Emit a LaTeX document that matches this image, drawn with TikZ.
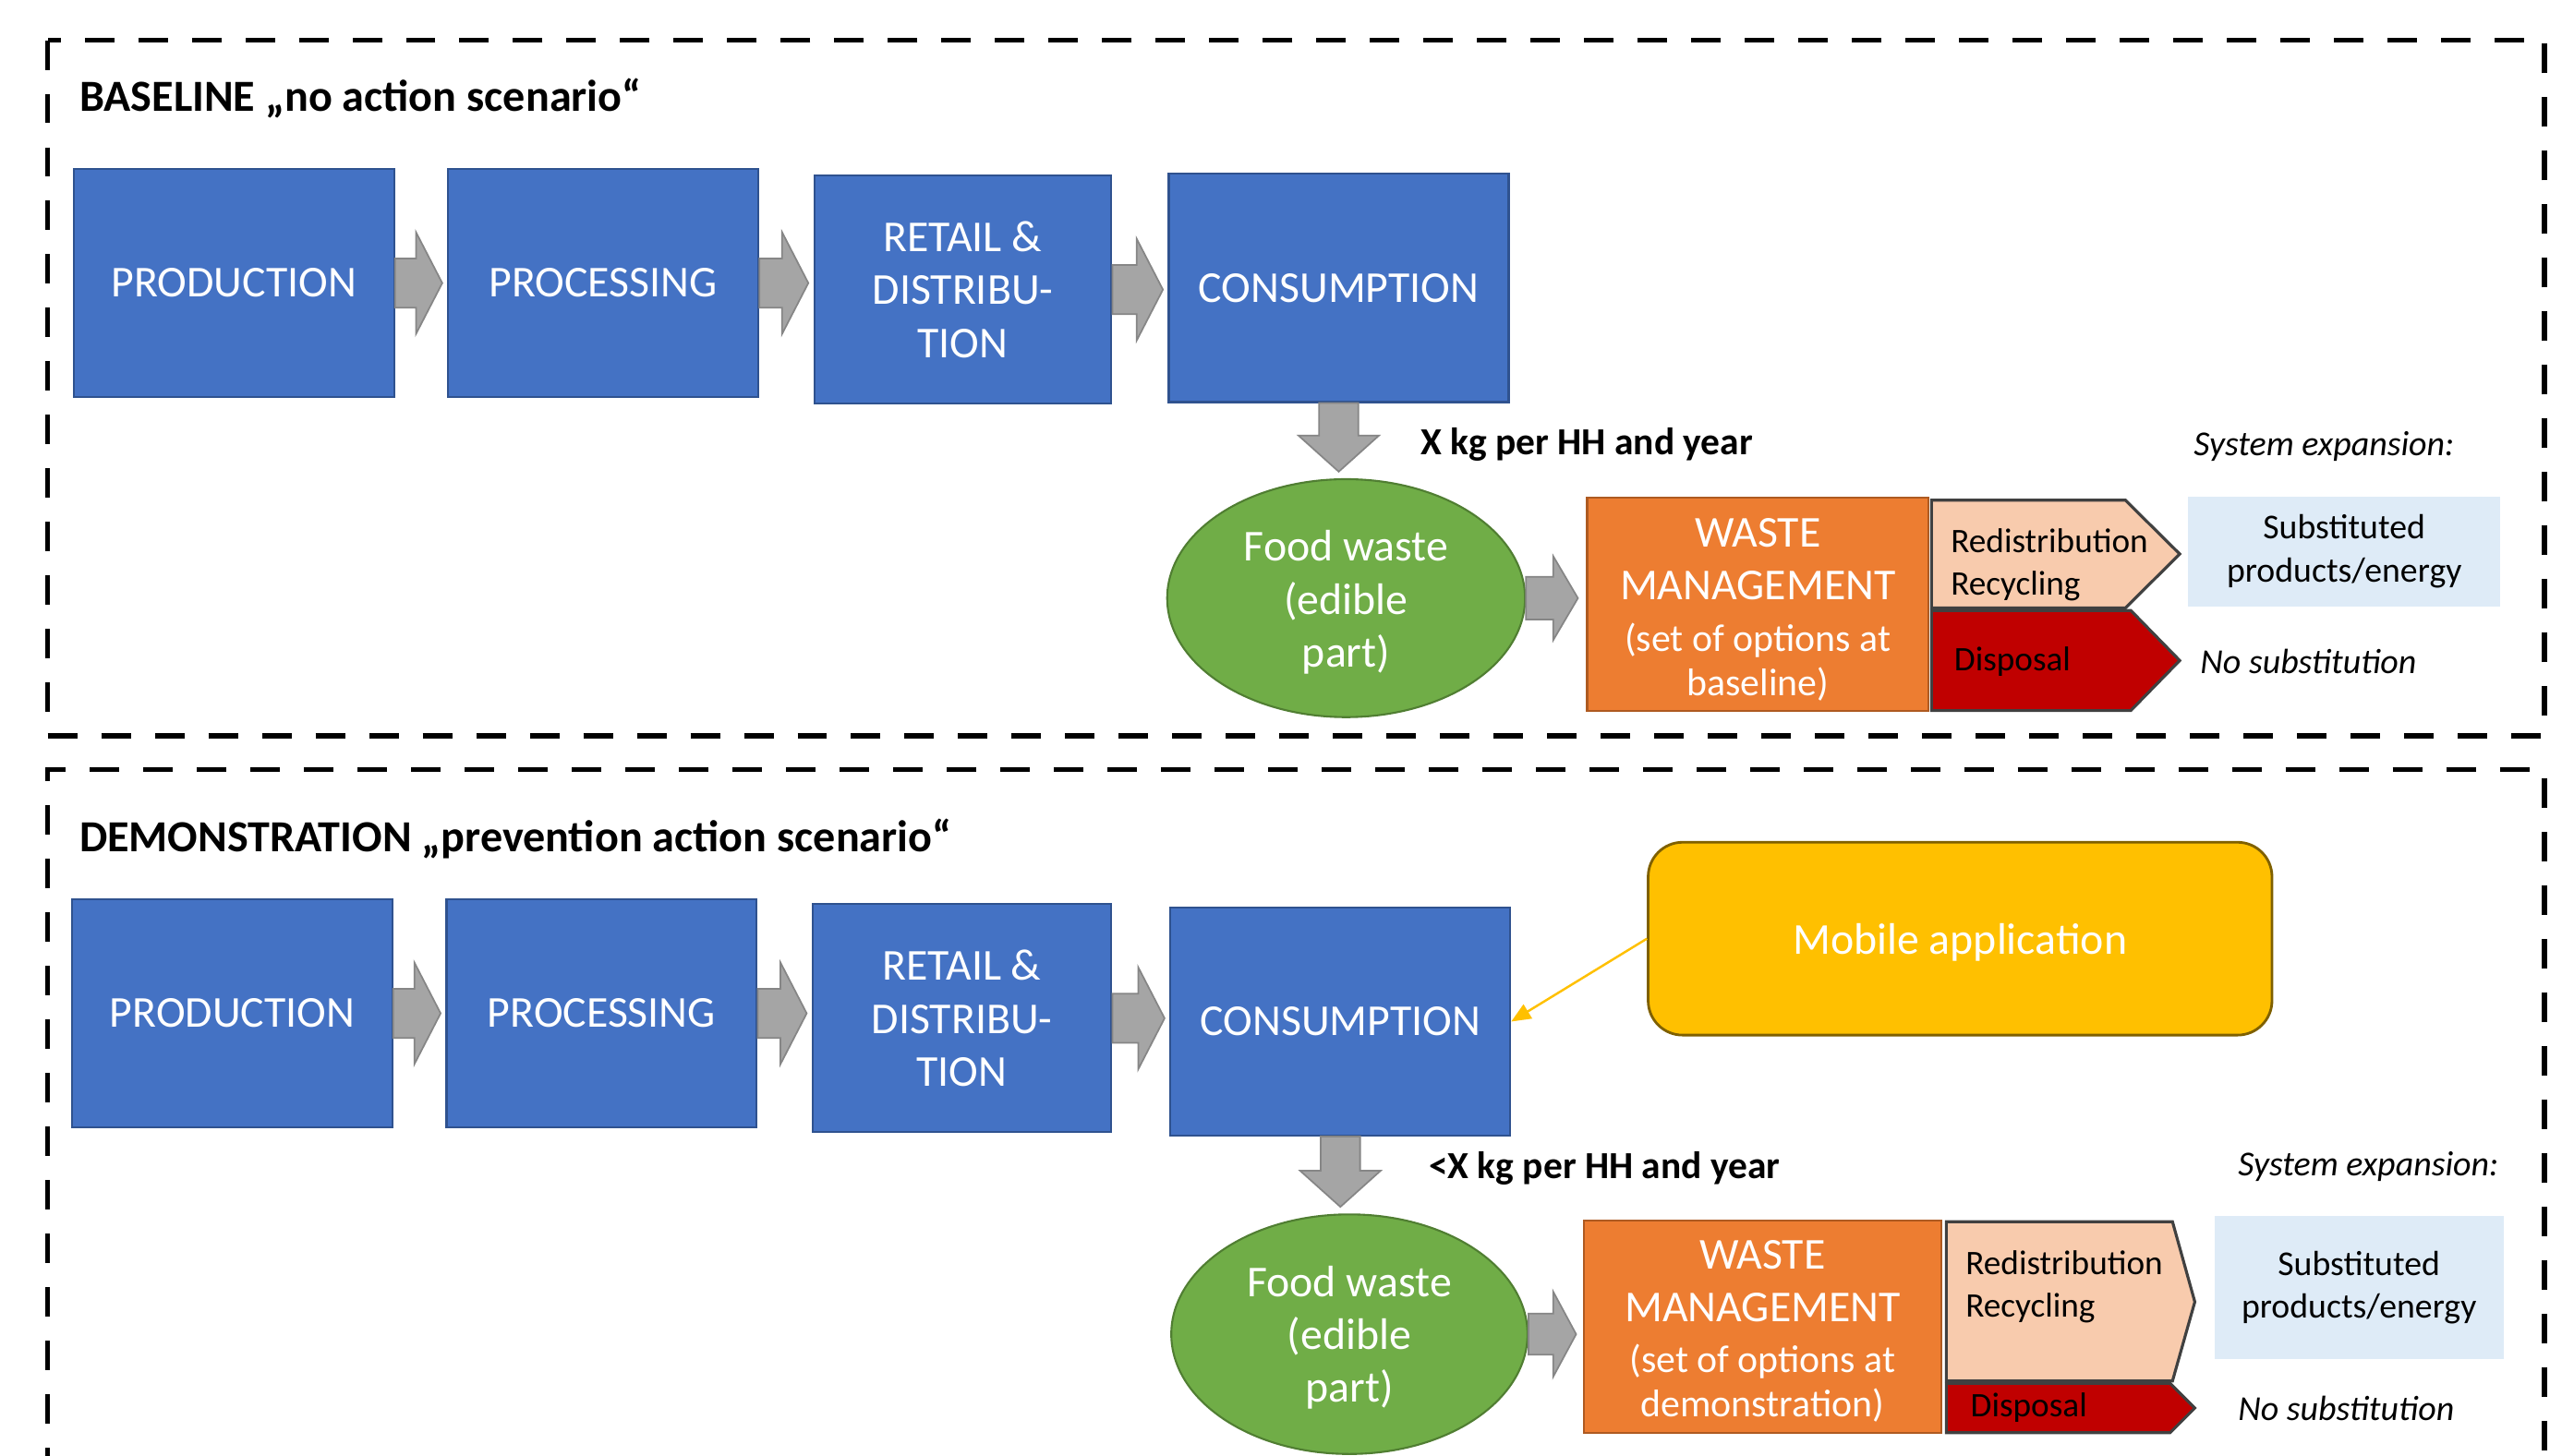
\documentclass[tikz,border=0pt]{standalone}
\usepackage{fontspec}
\setmainfont{Carlito}
\usetikzlibrary{calc,arrows.meta,shapes.geometric}

\definecolor{boxblue}{HTML}{4472C4}
\definecolor{blueedge}{HTML}{2F528F}
\definecolor{flowgray}{HTML}{A5A5A5}
\definecolor{flowedge}{HTML}{868686}
\definecolor{leafgreen}{HTML}{70AD47}
\definecolor{greenedge}{HTML}{507E32}
\definecolor{wmorange}{HTML}{ED7D31}
\definecolor{orangeedge}{HTML}{AE5A21}
\definecolor{peach}{HTML}{F8CBAD}
\definecolor{darkred}{HTML}{C00000}
\definecolor{optedge}{HTML}{404040}
\definecolor{paleblue}{HTML}{DEEBF7}
\definecolor{appyellow}{HTML}{FFC000}
\definecolor{appedge}{HTML}{7F6000}

\newcommand\pxu{0.017774cm}
\newcommand\mainsz{\fontsize{13.6}{16.3}\selectfont}
\newcommand\smallsz{\fontsize{11.9}{14}\selectfont}
\newcommand\optsz{\fontsize{10.6}{13.15}\selectfont}
\newcommand\substsz{\fontsize{10.75}{13.15}\selectfont}

\tikzset{
  frame/.style={line width=1.6pt, dash pattern=on 9.1pt off 7.4pt},
  heading/.style={font=\fontsize{13.7}{16}\selectfont\bfseries, inner sep=0},
  stage/.style={draw=blueedge, fill=boxblue, text=white, line width=0.6pt,
    inner sep=0, align=center, font=\mainsz},
  waste/.style={ellipse, draw=greenedge, fill=leafgreen, line width=0.6pt,
    inner sep=0},
  wm/.style={draw=orangeedge, fill=wmorange, line width=0.6pt, inner sep=0},
  inlabel/.style={text=white, inner sep=0, align=center, font=\mainsz},
  blockflow/.style={fill=flowgray, draw=flowedge, line width=0.5pt},
  option/.style={draw=optedge, line width=0.9pt, line join=miter},
  optlabel/.style={inner sep=0, align=left, font=\optsz},
  subst/.style={fill=paleblue, inner sep=0, align=center, font=\substsz},
  flowlbl/.style={inner sep=0, font=\fontsize{11.8}{14}\selectfont\bfseries},
  remark/.style={inner sep=0, font=\fontsize{10.8}{13}\selectfont\itshape},
  mobile/.style={draw=appedge, fill=appyellow, line width=0.8pt,
    rounded corners=10.6pt, inner sep=0},
  appflow/.style={draw=appyellow, line width=0.7pt,
    -{Triangle[length=6pt,width=5pt]}},
}

% horizontal block arrow: #1 source, #2 target, #3 shaft half height,
% #4 head half height, #5 head length, #6 gap before target
\newcommand\hflow[6]{%
  \coordinate (hs) at (#1.east);
  \coordinate (ht0) at (hs -| #2.west);
  \coordinate (ht) at ($(ht0)+(-#6,0)$);
  \coordinate (hh) at ($(ht)+(-#5,0)$);
  \path[blockflow] ($(hs)+(0,-#3)$) -- ($(hh |- hs)+(0,-#3)$)
    -- ($(hh |- hs)+(0,-#4)$) -- (ht) -- ($(hh |- hs)+(0,#4)$)
    -- ($(hh |- hs)+(0,#3)$) -- ($(hs)+(0,#3)$) -- cycle;
}
% vertical block arrow from #1 down to #2
\newcommand\vflow[2]{%
  \coordinate (vs) at (#1.south);
  \coordinate (vt0) at (vs |- #2.north);
  \coordinate (vt) at ($(vt0)+(0,-4)$);
  \coordinate (vh) at ($(vt)+(0,-22)$);
  \path[blockflow] ($(vs)+(-12,0)$) -- ($(vh)+(-12,0)$) -- ($(vh)+(-24.5,0)$)
    -- (vt) -- ($(vh)+(24.5,0)$) -- ($(vh)+(12,0)$) -- ($(vs)+(12,0)$) -- cycle;
}

\begin{document}
\begin{tikzpicture}[x=0.017774cm, y=-0.017774cm]
\useasboundingbox (0,0) rectangle (1568,887);

% scenario frames
\draw[frame] (29,24.5) rectangle (1550,448.5);
\draw[frame] (29,900) -- (29,469) -- (1550,469) -- (1550,900);

% ---------------- baseline scenario ----------------
\node[heading, anchor=west] (headA) at (48,60) {BASELINE „no action scenario“};

\node[stage, minimum width=195*\pxu, minimum height=139*\pxu] (prodA) at (142.5,172.5) {PRODUCTION};
\node[stage, minimum width=189*\pxu, minimum height=139*\pxu] (procA) at (367.5,172.5) {PROCESSING};
\node[stage, minimum width=181*\pxu, minimum height=139*\pxu] (retA) at (586.5,176.5) {RETAIL \&\\DISTRIBU-\\TION};
\node[stage, minimum width=207*\pxu, minimum height=139*\pxu] (consA) at (815.5,175.5) {CONSUMPTION};

\hflow{prodA}{procA}{15}{31}{16}{3}
\hflow{procA}{retA}{15}{31}{16}{3}
\hflow{retA}{consA}{15}{31}{16}{3}

\node[waste, minimum width=218*\pxu, minimum height=145*\pxu] (fwA) at (820,364.5) {};
\node[inlabel] (fwAtext) at ($(fwA.center)+(0,2.5)$) {Food waste\\(edible\\part)};
\vflow{consA}{fwA}
\node[flowlbl, anchor=west] (qtyA) at (865,271) {X kg per HH and year};

\node[wm, minimum width=208*\pxu, minimum height=130*\pxu] (wmA) at (1070.8,368) {};
\node[inlabel] (wmAtext) at ($(wmA.center)+(0,3.5)$)
  {WASTE\\MANAGEMENT\\[-0.6pt]{\smallsz (set of options at}\\[-2.6pt]{\smallsz baseline)}};
\hflow{fwA}{wmA}{13}{25.5}{15}{5}

\path[option, fill=peach] (1176.6,304.8) -- (1294.7,304.8) -- (1327.8,337.6)
  -- (1294.7,370.5) -- (1176.6,370.5) -- cycle;
\path[option, fill=darkred] (1176.6,372) -- (1298,372) -- (1327.8,402.5)
  -- (1298,433) -- (1176.6,433) -- cycle;
\node[optlabel, anchor=west] (recA) at (1188,344) {Redistribution\\Recycling};
\node[optlabel, anchor=west] (dispA) at (1190,403) {Disposal};

\node[remark, anchor=west] (sysA) at (1336,272) {System expansion:};
\node[subst, minimum width=190*\pxu, minimum height=67*\pxu] (subA) at (1428,336) {Substituted\\products/energy};
\node[remark, anchor=west] (noA) at (1340,403) {No substitution};

% ---------------- demonstration scenario ----------------
\node[heading, anchor=west] (headB) at (48,511) {DEMONSTRATION „prevention action scenario“};

\node[stage, minimum width=195*\pxu, minimum height=139*\pxu] (prodB) at (141.5,617.5) {PRODUCTION};
\node[stage, minimum width=189*\pxu, minimum height=139*\pxu] (procB) at (366.5,617.5) {PROCESSING};
\node[stage, minimum width=182*\pxu, minimum height=139*\pxu] (retB) at (586,620.5) {RETAIL \&\\DISTRIBU-\\TION};
\node[stage, minimum width=207*\pxu, minimum height=139*\pxu] (consB) at (816.5,622.5) {CONSUMPTION};

\hflow{prodB}{procB}{15}{31}{16}{3}
\hflow{procB}{retB}{15}{31}{16}{3}
\hflow{retB}{consB}{15}{31}{16}{3}

\node[mobile, minimum width=380*\pxu, minimum height=117.5*\pxu] (app) at (1194,572) {};
\node[inlabel] (apptext) at ($(app.center)+(0,2.5)$) {Mobile application};
\draw[appflow] (app.west) -- (consB.east);

\node[waste, minimum width=217*\pxu, minimum height=146*\pxu] (fwB) at (822,813) {};
\node[inlabel] (fwBtext) at ($(fwB.center)+(0,2)$) {Food waste\\(edible\\part)};
\vflow{consB}{fwB}
\node[flowlbl, anchor=west] (qtyB) at (870,712) {<X kg per HH and year};

\node[wm, minimum width=218*\pxu, minimum height=129.5*\pxu] (wmB) at (1073.7,808.3) {};
\node[inlabel] (wmBtext) at ($(wmB.center)+(0,3)$)
  {WASTE\\MANAGEMENT\\[-0.6pt]{\smallsz (set of options at}\\[-2.6pt]{\smallsz demonstration)}};
\hflow{fwB}{wmB}{12.5}{26}{14}{4}

\path[option, fill=peach] (1185.6,744.5) -- (1323.4,744.5) -- (1337,793.3)
  -- (1323.4,841.5) -- (1185.6,841.5) -- cycle;
\path[option, fill=darkred] (1185.6,843) -- (1322,843) -- (1337,858)
  -- (1322,873) -- (1185.6,873) -- cycle;
\node[optlabel, anchor=west] (recB) at (1197,784) {Redistribution\\Recycling};
\node[optlabel, anchor=west] (dispB) at (1200,858) {Disposal};

\node[remark, anchor=west] (sysB) at (1363,711) {System expansion:};
\node[subst, minimum width=176*\pxu, minimum height=87*\pxu] (subB) at (1437,784.5) {Substituted\\products/energy};
\node[remark, anchor=west] (noB) at (1363,858) {No substitution};
\end{tikzpicture}
\end{document}
